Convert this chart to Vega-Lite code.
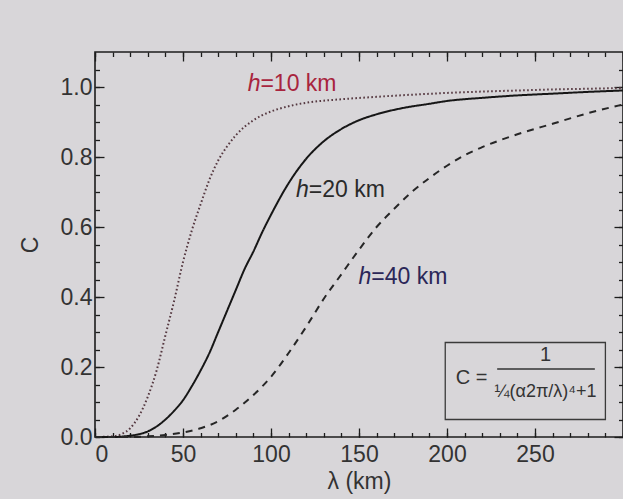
{
  "$schema": "https://vega.github.io/schema/vega-lite/v6.json",
  "width": 528,
  "height": 385,
  "autosize": {"type": "none"},
  "padding": {"left": 95, "top": 52, "right": 0, "bottom": 62},
  "background": "#d8d6d9",
  "config": {
    "font": "Liberation Sans",
    "view": {"stroke": "#1c1c1c", "strokeWidth": 1.6},
    "axis": {"grid": false, "domain": false, "tickColor": "#1c1c1c", "tickWidth": 1.3, "labelColor": "#333333", "titleColor": "#333333", "labelFont": "Liberation Sans", "titleFont": "Liberation Sans", "titleFontWeight": "normal"}
  },
  "data": {
    "values": [
      {"lambda": 0, "C": 0, "h": "10 km"},
      {"lambda": 10, "C": 0.002, "h": "10 km"},
      {"lambda": 15, "C": 0.008, "h": "10 km"},
      {"lambda": 20, "C": 0.025, "h": "10 km"},
      {"lambda": 25, "C": 0.06, "h": "10 km"},
      {"lambda": 30, "C": 0.115, "h": "10 km"},
      {"lambda": 35, "C": 0.19, "h": "10 km"},
      {"lambda": 40, "C": 0.29, "h": "10 km"},
      {"lambda": 45, "C": 0.39, "h": "10 km"},
      {"lambda": 50, "C": 0.5, "h": "10 km"},
      {"lambda": 55, "C": 0.59, "h": "10 km"},
      {"lambda": 60, "C": 0.665, "h": "10 km"},
      {"lambda": 65, "C": 0.735, "h": "10 km"},
      {"lambda": 70, "C": 0.79, "h": "10 km"},
      {"lambda": 75, "C": 0.83, "h": "10 km"},
      {"lambda": 80, "C": 0.862, "h": "10 km"},
      {"lambda": 90, "C": 0.905, "h": "10 km"},
      {"lambda": 100, "C": 0.93, "h": "10 km"},
      {"lambda": 110, "C": 0.945, "h": "10 km"},
      {"lambda": 120, "C": 0.955, "h": "10 km"},
      {"lambda": 140, "C": 0.965, "h": "10 km"},
      {"lambda": 160, "C": 0.972, "h": "10 km"},
      {"lambda": 180, "C": 0.978, "h": "10 km"},
      {"lambda": 200, "C": 0.983, "h": "10 km"},
      {"lambda": 220, "C": 0.987, "h": "10 km"},
      {"lambda": 240, "C": 0.99, "h": "10 km"},
      {"lambda": 260, "C": 0.993, "h": "10 km"},
      {"lambda": 280, "C": 0.995, "h": "10 km"},
      {"lambda": 300, "C": 0.997, "h": "10 km"},

      {"lambda": 0, "C": 0, "h": "20 km"},
      {"lambda": 10, "C": 0, "h": "20 km"},
      {"lambda": 20, "C": 0.004, "h": "20 km"},
      {"lambda": 25, "C": 0.008, "h": "20 km"},
      {"lambda": 30, "C": 0.016, "h": "20 km"},
      {"lambda": 35, "C": 0.03, "h": "20 km"},
      {"lambda": 40, "C": 0.05, "h": "20 km"},
      {"lambda": 45, "C": 0.075, "h": "20 km"},
      {"lambda": 50, "C": 0.105, "h": "20 km"},
      {"lambda": 55, "C": 0.145, "h": "20 km"},
      {"lambda": 60, "C": 0.19, "h": "20 km"},
      {"lambda": 65, "C": 0.24, "h": "20 km"},
      {"lambda": 70, "C": 0.3, "h": "20 km"},
      {"lambda": 75, "C": 0.36, "h": "20 km"},
      {"lambda": 80, "C": 0.42, "h": "20 km"},
      {"lambda": 85, "C": 0.48, "h": "20 km"},
      {"lambda": 90, "C": 0.53, "h": "20 km"},
      {"lambda": 95, "C": 0.585, "h": "20 km"},
      {"lambda": 100, "C": 0.635, "h": "20 km"},
      {"lambda": 110, "C": 0.725, "h": "20 km"},
      {"lambda": 120, "C": 0.795, "h": "20 km"},
      {"lambda": 130, "C": 0.845, "h": "20 km"},
      {"lambda": 140, "C": 0.88, "h": "20 km"},
      {"lambda": 150, "C": 0.905, "h": "20 km"},
      {"lambda": 160, "C": 0.922, "h": "20 km"},
      {"lambda": 175, "C": 0.94, "h": "20 km"},
      {"lambda": 190, "C": 0.952, "h": "20 km"},
      {"lambda": 200, "C": 0.96, "h": "20 km"},
      {"lambda": 220, "C": 0.969, "h": "20 km"},
      {"lambda": 240, "C": 0.976, "h": "20 km"},
      {"lambda": 260, "C": 0.981, "h": "20 km"},
      {"lambda": 280, "C": 0.986, "h": "20 km"},
      {"lambda": 300, "C": 0.99, "h": "20 km"},

      {"lambda": 0, "C": 0, "h": "40 km"},
      {"lambda": 20, "C": 0, "h": "40 km"},
      {"lambda": 30, "C": 0.002, "h": "40 km"},
      {"lambda": 40, "C": 0.006, "h": "40 km"},
      {"lambda": 50, "C": 0.013, "h": "40 km"},
      {"lambda": 60, "C": 0.025, "h": "40 km"},
      {"lambda": 70, "C": 0.045, "h": "40 km"},
      {"lambda": 80, "C": 0.078, "h": "40 km"},
      {"lambda": 90, "C": 0.12, "h": "40 km"},
      {"lambda": 100, "C": 0.172, "h": "40 km"},
      {"lambda": 110, "C": 0.24, "h": "40 km"},
      {"lambda": 120, "C": 0.315, "h": "40 km"},
      {"lambda": 130, "C": 0.395, "h": "40 km"},
      {"lambda": 140, "C": 0.465, "h": "40 km"},
      {"lambda": 150, "C": 0.535, "h": "40 km"},
      {"lambda": 160, "C": 0.6, "h": "40 km"},
      {"lambda": 170, "C": 0.652, "h": "40 km"},
      {"lambda": 180, "C": 0.7, "h": "40 km"},
      {"lambda": 190, "C": 0.74, "h": "40 km"},
      {"lambda": 200, "C": 0.775, "h": "40 km"},
      {"lambda": 210, "C": 0.805, "h": "40 km"},
      {"lambda": 220, "C": 0.828, "h": "40 km"},
      {"lambda": 240, "C": 0.865, "h": "40 km"},
      {"lambda": 260, "C": 0.895, "h": "40 km"},
      {"lambda": 280, "C": 0.925, "h": "40 km"},
      {"lambda": 300, "C": 0.95, "h": "40 km"}
    ]
  },
  "layer": [
    {
      "mark": {"type": "point", "opacity": 0},
      "encoding": {
        "x": {"field": "lambda", "type": "quantitative", "scale": {"domain": [0, 300], "nice": false},
              "axis": {"orient": "bottom", "values": [0,10,20,30,40,50,60,70,80,90,100,110,120,130,140,150,160,170,180,190,200,210,220,230,240,250,260,270,280,290,300], "tickSize": -4.5, "labels": false, "title": null}},
        "y": {"field": "C", "type": "quantitative", "scale": {"domain": [0, 1.1], "nice": false},
              "axis": {"orient": "left", "values": [0,0.05,0.1,0.15,0.2,0.25,0.3,0.35,0.4,0.45,0.5,0.55,0.6,0.65,0.7,0.75,0.8,0.85,0.9,0.95,1.0,1.05], "tickSize": -4.5, "labels": false, "title": null}}
      }
    },
    {
      "mark": {"type": "point", "opacity": 0},
      "encoding": {
        "x": {"field": "lambda", "type": "quantitative",
              "axis": {"orient": "top", "values": [0,10,20,30,40,50,60,70,80,90,100,110,120,130,140,150,160,170,180,190,200,210,220,230,240,250,260,270,280,290,300], "tickSize": -4.5, "labels": false, "title": null}},
        "y": {"field": "C", "type": "quantitative",
              "axis": {"orient": "right", "values": [0,0.05,0.1,0.15,0.2,0.25,0.3,0.35,0.4,0.45,0.5,0.55,0.6,0.65,0.7,0.75,0.8,0.85,0.9,0.95,1.0,1.05], "tickSize": -4.5, "labels": false, "title": null}}
      }
    },
    {
      "mark": {"type": "point", "opacity": 0},
      "encoding": {
        "x": {"field": "lambda", "type": "quantitative",
              "axis": {"orient": "top", "values": [0,50,100,150,200,250,300], "tickSize": -9, "labels": false, "title": null}},
        "y": {"field": "C", "type": "quantitative",
              "axis": {"orient": "right", "values": [0,0.2,0.4,0.6,0.8,1.0], "tickSize": -9, "labels": false, "title": null}}
      }
    },
    {
      "mark": {"type": "line", "strokeWidth": 2, "interpolate": "monotone"},
      "encoding": {
        "x": {"field": "lambda", "type": "quantitative",
              "axis": {"orient": "bottom", "values": [0,50,100,150,200,250], "tickSize": -9, "labelFontSize": 23, "labelPadding": 15, "title": "λ (km)", "titleFontSize": 23, "titlePadding": 4}},
        "y": {"field": "C", "type": "quantitative",
              "axis": {"orient": "left", "values": [0,0.2,0.4,0.6,0.8,1.0], "format": ".1f", "tickSize": -9, "labelFontSize": 23, "labelPadding": 12, "title": "C", "titleFontSize": 23, "titlePadding": 18}},
        "color": {"field": "h", "type": "nominal", "legend": null,
                  "scale": {"domain": ["10 km", "20 km", "40 km"], "range": ["#553840", "#161616", "#262626"]}},
        "strokeDash": {"field": "h", "type": "nominal", "legend": null,
                       "scale": {"domain": ["10 km", "20 km", "40 km"], "range": [[1.6, 2.4], [1, 0], [7, 6]]}}
      }
    },
    {
      "data": {"values": [{}]},
      "mark": {"type": "text", "text": "h", "fontStyle": "italic", "align": "right", "baseline": "middle", "fontSize": 23, "color": "#a8243e"},
      "encoding": {"x": {"datum": 94, "type": "quantitative", "axis": null}, "y": {"datum": 1.01, "type": "quantitative", "axis": null}}
    },
    {
      "data": {"values": [{}]},
      "mark": {"type": "text", "text": "=10 km", "align": "left", "baseline": "middle", "fontSize": 23, "color": "#a8243e"},
      "encoding": {"x": {"datum": 94, "type": "quantitative", "axis": null}, "y": {"datum": 1.01, "type": "quantitative", "axis": null}}
    },
    {
      "data": {"values": [{}]},
      "mark": {"type": "text", "text": "h", "fontStyle": "italic", "align": "right", "baseline": "middle", "fontSize": 23, "color": "#2a2a2a"},
      "encoding": {"x": {"datum": 121.5, "type": "quantitative", "axis": null}, "y": {"datum": 0.705, "type": "quantitative", "axis": null}}
    },
    {
      "data": {"values": [{}]},
      "mark": {"type": "text", "text": "=20 km", "align": "left", "baseline": "middle", "fontSize": 23, "color": "#2a2a2a"},
      "encoding": {"x": {"datum": 121.5, "type": "quantitative", "axis": null}, "y": {"datum": 0.705, "type": "quantitative", "axis": null}}
    },
    {
      "data": {"values": [{}]},
      "mark": {"type": "text", "text": "h", "fontStyle": "italic", "align": "right", "baseline": "middle", "fontSize": 23, "color": "#2b2758"},
      "encoding": {"x": {"datum": 157, "type": "quantitative", "axis": null}, "y": {"datum": 0.458, "type": "quantitative", "axis": null}}
    },
    {
      "data": {"values": [{}]},
      "mark": {"type": "text", "text": "=40 km", "align": "left", "baseline": "middle", "fontSize": 23, "color": "#2b2758"},
      "encoding": {"x": {"datum": 157, "type": "quantitative", "axis": null}, "y": {"datum": 0.458, "type": "quantitative", "axis": null}}
    },
    {
      "data": {"values": [{}]},
      "mark": {"type": "rect", "filled": false, "stroke": "#3a3a3a", "strokeWidth": 1.3},
      "encoding": {
        "x": {"datum": 199, "type": "quantitative", "axis": null}, "x2": {"datum": 290},
        "y": {"datum": 0.05, "type": "quantitative", "axis": null}, "y2": {"datum": 0.27}
      }
    },
    {
      "data": {"values": [{}]},
      "mark": {"type": "text", "text": "C =", "align": "center", "baseline": "middle", "fontSize": 20, "color": "#333333"},
      "encoding": {"x": {"datum": 214, "type": "quantitative", "axis": null}, "y": {"datum": 0.168, "type": "quantitative", "axis": null}}
    },
    {
      "data": {"values": [{}]},
      "mark": {"type": "rule", "stroke": "#333333", "strokeWidth": 1.5},
      "encoding": {
        "x": {"datum": 228.5, "type": "quantitative", "axis": null}, "x2": {"datum": 284},
        "y": {"datum": 0.194, "type": "quantitative", "axis": null}
      }
    },
    {
      "data": {"values": [{}]},
      "mark": {"type": "text", "text": "1", "align": "center", "baseline": "middle", "fontSize": 20, "color": "#333333"},
      "encoding": {"x": {"datum": 256, "type": "quantitative", "axis": null}, "y": {"datum": 0.233, "type": "quantitative", "axis": null}}
    },
    {
      "data": {"values": [{}]},
      "mark": {"type": "text", "text": "¼(α2π/λ)⁴+1", "align": "center", "baseline": "middle", "fontSize": 18, "color": "#333333"},
      "encoding": {"x": {"datum": 256, "type": "quantitative", "axis": null}, "y": {"datum": 0.128, "type": "quantitative", "axis": null}}
    }
  ],
  "resolve": {"axis": {"x": "independent", "y": "independent"}}
}
